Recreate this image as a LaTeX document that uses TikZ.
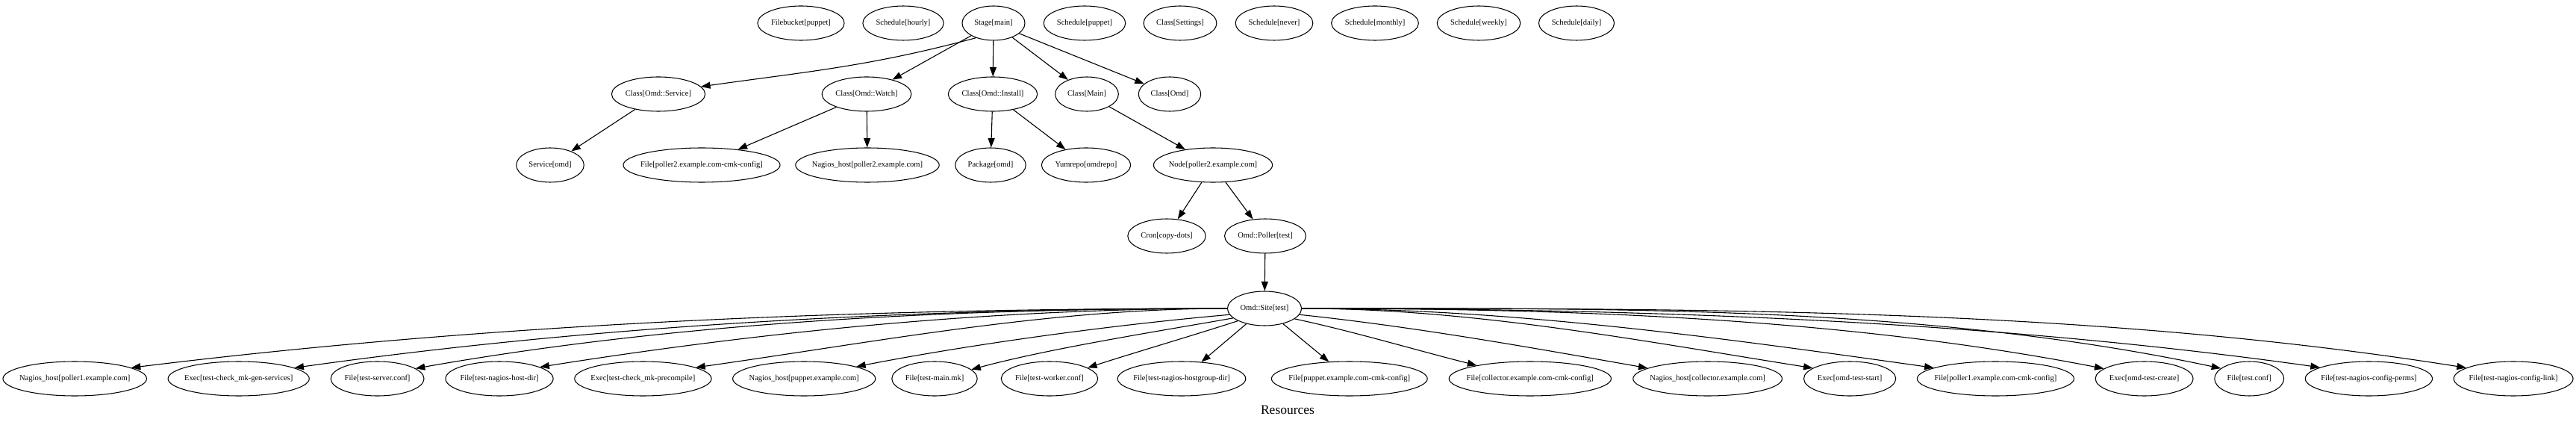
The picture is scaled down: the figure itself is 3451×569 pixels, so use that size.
\documentclass[tikz,border=0pt]{standalone}
\usepackage{fontspec}
\setmainfont{Liberation Serif}
\usetikzlibrary{arrows.meta,shapes.geometric}
\newcommand\nlbl[1]{\setbox0=\hbox{#1}\hbox to 0.792\wd0{\hss\box0\hss}}
\begin{document}
\begin{tikzpicture}[x=1pt,y=1pt,
  res/.style={ellipse, draw, line width=1.05pt, inner xsep=9.4pt, inner ysep=0pt,
    minimum height=46pt, font={\fontsize{10.5}{12}\selectfont}},
  edge/.style={line width=1.1pt, -{Triangle[length=12.5pt,width=9pt]}},
  lbl/.style={font={\fontsize{17.5}{20}\selectfont}}]
\fill[white] (0,0) rectangle (3451,-569);
\useasboundingbox (0,0) rectangle (3451,-569);
% top row
\node[res] (fb)    at (1073,-31) {\nlbl{Filebucket[puppet]}};
\node[res] (shh)   at (1210,-31) {\nlbl{Schedule[hourly]}};
\node[res] (stage) at (1331,-31) {\nlbl{Stage[main]}};
\node[res] (shp)   at (1453,-31) {\nlbl{Schedule[puppet]}};
\node[res] (cset)  at (1581,-31) {\nlbl{Class[Settings]}};
\node[res] (shn)   at (1707,-31) {\nlbl{Schedule[never]}};
\node[res] (shm)   at (1842,-31) {\nlbl{Schedule[monthly]}};
\node[res] (shw)   at (1981,-31) {\nlbl{Schedule[weekly]}};
\node[res] (shd)   at (2112,-31) {\nlbl{Schedule[daily]}};
% row 2
\node[res] (csvc)   at (882,-126)  {\nlbl{Class[Omd::Service]}};
\node[res] (cwatch) at (1161,-126) {\nlbl{Class[Omd::Watch]}};
\node[res] (cinst)  at (1330,-126) {\nlbl{Class[Omd::Install]}};
\node[res] (cmain)  at (1456,-126) {\nlbl{Class[Main]}};
\node[res] (comd)   at (1567,-126) {\nlbl{Class[Omd]}};
% row 3
\node[res] (svc)  at (737,-221)  {\nlbl{Service[omd]}};
\node[res] (fp2)  at (940,-221)  {\nlbl{File[poller2.example.com-cmk-config]}};
\node[res] (np2)  at (1162,-221) {\nlbl{Nagios\_host[poller2.example.com]}};
\node[res] (pkg)  at (1327,-221) {\nlbl{Package[omd]}};
\node[res] (yum)  at (1455,-221) {\nlbl{Yumrepo[omdrepo]}};
\node[res] (nd)   at (1625,-221) {\nlbl{Node[poller2.example.com]}};
% row 4
\node[res] (cron)   at (1563,-316) {\nlbl{Cron[copy-dots]}};
\node[res] (poller) at (1695,-316) {\nlbl{Omd::Poller[test]}};
% row 5
\node[res] (site) at (1694,-413) {\nlbl{Omd::Site[test]}};
% bottom row
\node[res] (b1)  at (100.2,-507)  {\nlbl{Nagios\_host[poller1.example.com]}};
\node[res] (b2)  at (319.7,-507)  {\nlbl{Exec[test-check\_mk-gen-services]}};
\node[res] (b3)  at (505.6,-507)  {\nlbl{File[test-server.conf]}};
\node[res] (b4)  at (669,-507)    {\nlbl{File[test-nagios-host-dir]}};
\node[res] (b5)  at (861.4,-507)  {\nlbl{Exec[test-check\_mk-precompile]}};
\node[res] (b6)  at (1077.2,-507) {\nlbl{Nagios\_host[puppet.example.com]}};
\node[res] (b7)  at (1252,-507)   {\nlbl{File[test-main.mk]}};
\node[res] (b8)  at (1406,-507)   {\nlbl{File[test-worker.conf]}};
\node[res] (b9)  at (1583,-507)   {\nlbl{File[test-nagios-hostgroup-dir]}};
\node[res] (b10) at (1807.8,-507) {\nlbl{File[puppet.example.com-cmk-config]}};
\node[res] (b11) at (2049.8,-507) {\nlbl{File[collector.example.com-cmk-config]}};
\node[res] (b12) at (2287.6,-507) {\nlbl{Nagios\_host[collector.example.com]}};
\node[res] (b13) at (2478.1,-507) {\nlbl{Exec[omd-test-start]}};
\node[res] (b14) at (2673.4,-507) {\nlbl{File[poller1.example.com-cmk-config]}};
\node[res] (b15) at (2872.6,-507) {\nlbl{Exec[omd-test-create]}};
\node[res] (b16) at (3013.2,-507) {\nlbl{File[test.conf]}};
\node[res] (b17) at (3173.4,-507) {\nlbl{File[test-nagios-config-perms]}};
\node[res] (b18) at (3367.1,-507) {\nlbl{File[test-nagios-config-link]}};
\node[lbl] (title) at (1725,-549) {Resources};
% edges from Stage
\draw[edge] (stage.220) .. controls +(195:147) and +(8:147) .. (csvc.10);
\draw[edge] (stage) -- (cwatch);
\draw[edge] (stage) -- (cinst);
\draw[edge] (stage) -- (cmain);
\draw[edge] (stage) -- (comd);
% row 2 to row 3
\draw[edge] (csvc) -- (svc);
\draw[edge] (cwatch) -- (fp2);
\draw[edge] (cwatch) -- (np2);
\draw[edge] (cinst) -- (pkg);
\draw[edge] (cinst) -- (yum);
\draw[edge] (cmain) -- (nd);
% row 3 to row 4
\draw[edge] (nd) -- (cron);
\draw[edge] (nd) -- (poller);
\draw[edge] (poller) -- (site);
% site to bottom, left side
\draw[edge] (site.180) .. controls +(180:490) and +(7:490) .. (b1.11);
\draw[edge] (site.180) .. controls +(180:417) and +(8:417) .. (b2.11);
\draw[edge] (site.180) .. controls +(180:361) and +(10:361) .. (b3.15);
\draw[edge] (site.180) .. controls +(180:308) and +(9:308) .. (b4.16);
\draw[edge] (site.180) .. controls +(180:238) and +(8:238) .. (b5.12);
\draw[edge] (site.190) .. controls +(185:158) and +(11:158) .. (b6.13);
\draw[edge] (site.197) .. controls +(190:110) and +(15:110) .. (b7.14);
\draw[edge] (site.205) .. controls +(198:65) and +(18:65) .. (b8.16);
\draw[edge] (site) -- (b9);
\draw[edge] (site) -- (b10);
% right side
\draw[edge] (site.341) .. controls +(-12:80) and +(166:80) .. (b11.166);
\draw[edge] (site.350) .. controls +(-6:156) and +(170:156) .. (b12.170);
\draw[edge] (site.0) .. controls +(0:228) and +(171:228) .. (b13.164);
\draw[edge] (site.0) .. controls +(0:282) and +(172:282) .. (b14.170);
\draw[edge] (site.0) .. controls +(0:357) and +(169:357) .. (b15.166);
\draw[edge] (site.0) .. controls +(0:410) and +(168:410) .. (b16.160);
\draw[edge] (site.0) .. controls +(0:453) and +(172:453) .. (b17.167);
\draw[edge] (site.0) .. controls +(0:520) and +(171:520) .. (b18.167);
\end{tikzpicture}
\end{document}
